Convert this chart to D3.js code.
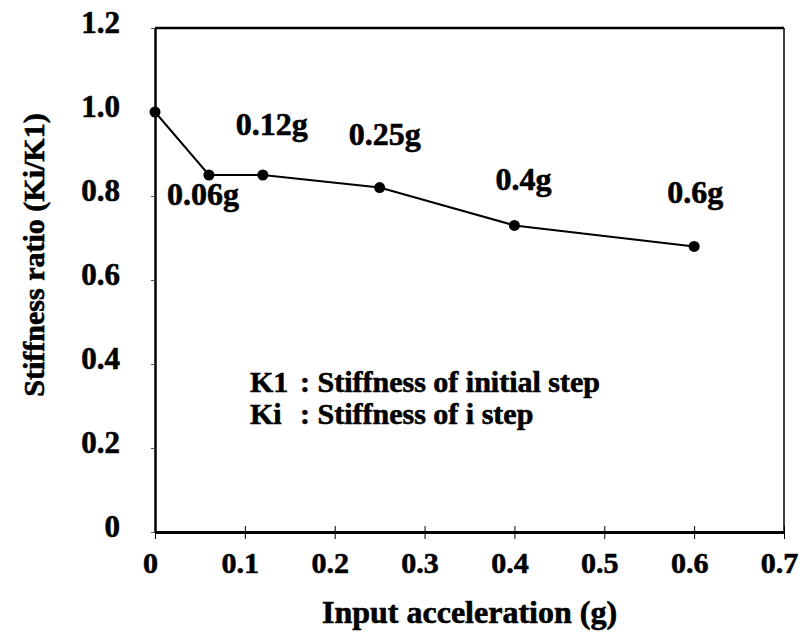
<!DOCTYPE html>
<html>
<head>
<meta charset="utf-8">
<script src="https://cdn.jsdelivr.net/npm/d3@7/dist/d3.min.js"></script>
<style>
  html, body { margin: 0; padding: 0; background: #fff; }
  svg { display: block; }
  text { font-family: "Liberation Serif", "Times New Roman", serif; font-weight: bold; fill: #000; stroke: #000; stroke-width: 0.6px; }
</style>
</head>
<body>
<svg id="chart" width="799" height="632"></svg>
<script>
// ---- data ----
const accel = [0, 0.06, 0.12, 0.25, 0.4, 0.6];
const ratio = [1.0, 0.85, 0.85, 0.82, 0.73, 0.68];
const pointLabels = ["", "0.06g", "0.12g", "0.25g", "0.4g", "0.6g"];
const xTicks = [0, 0.1, 0.2, 0.3, 0.4, 0.5, 0.6, 0.7];
const xTickLabels = ["0", "0.1", "0.2", "0.3", "0.4", "0.5", "0.6", "0.7"];
const yTicks = [0, 0.2, 0.4, 0.6, 0.8, 1.0, 1.2];
const yTickLabels = ["0", "0.2", "0.4", "0.6", "0.8", "1.0", "1.2"];
const xTitle = "Input acceleration (g)";
const yTitle = "Stiffness ratio (Ki/K1)";
const legendKeys = ["K1", "Ki"];
const legendTexts = [": Stiffness of initial step", ": Stiffness of i step"];

// ---- layout ----
const L = 155, R = 784, T = 28, B = 532;
const svg = d3.select("#chart");
const x = d3.scaleLinear().domain([0, 0.7]).range([L, R]);
const y = d3.scaleLinear().domain([0, 1.2]).range([B, T]);
const FONT = "'Liberation Serif', 'Times New Roman', serif";

// label offsets (px) relative to each point
const labelOffsets = [[0, 0], [-6, 30], [9, -40], [5, -43], [9, -35], [1, -43]];

// frame: top and right
svg.append("line").attr("x1", L).attr("x2", R).attr("y1", T).attr("y2", T)
  .attr("stroke", "#000").attr("stroke-width", 2.5);
svg.append("line").attr("x1", R).attr("x2", R).attr("y1", T).attr("y2", B)
  .attr("stroke", "#000").attr("stroke-width", 1.5);

// x axis
const xAxis = d3.axisBottom(x).tickValues(xTicks)
  .tickFormat((d, i) => xTickLabels[i]).tickSizeInner(6).tickSizeOuter(0).tickPadding(0);
const gx = svg.append("g").attr("transform", `translate(0,${B})`).call(xAxis);
gx.select(".domain").attr("stroke", "#000").attr("stroke-width", 3);
gx.selectAll(".tick line").attr("y1", -6).attr("y2", 7).attr("stroke", "#000").attr("stroke-width", 1);
gx.selectAll(".tick text").attr("y", 41).attr("dy", 0).attr("dx", -5)
  .style("font-size", "30px").style("font-family", FONT)
  .style("font-weight", "bold").attr("fill", "#000");

// y axis
const yAxis = d3.axisLeft(y).tickValues(yTicks)
  .tickFormat((d, i) => yTickLabels[i]).tickSizeInner(4).tickSizeOuter(0).tickPadding(0);
const gy = svg.append("g").attr("transform", `translate(${L},0)`).call(yAxis);
gy.select(".domain").attr("stroke", "#000").attr("stroke-width", 2.5);
gy.selectAll(".tick line").attr("stroke", "#555").attr("stroke-width", 1);
gy.selectAll(".tick text").attr("x", -35).attr("dy", 4)
  .style("font-size", "31px").style("font-family", FONT)
  .style("font-weight", "bold").attr("fill", "#000");

// data line
const pts = accel.map((a, i) => [a, ratio[i]]);
svg.append("path").datum(pts)
  .attr("d", d3.line().x(d => x(d[0])).y(d => y(d[1])))
  .attr("fill", "none").attr("stroke", "#000").attr("stroke-width", 2);
svg.selectAll("circle.pt").data(pts).enter().append("circle")
  .attr("class", "pt").attr("cx", d => x(d[0])).attr("cy", d => y(d[1])).attr("r", 5.5)
  .attr("fill", "#000");

// point labels
svg.selectAll("text.plabel").data(pointLabels).enter().append("text")
  .attr("class", "plabel")
  .attr("x", (d, i) => x(accel[i]) + labelOffsets[i][0])
  .attr("y", (d, i) => y(ratio[i]) + labelOffsets[i][1])
  .attr("text-anchor", "middle").style("font-size", "32px")
  .text(d => d);

// legend text
legendKeys.forEach((k, i) => {
  const by = 392 + i * 32;
  svg.append("text").attr("x", 250).attr("y", by).style("font-size", "30px").text(k);
  svg.append("text").attr("x", 300).attr("y", by).style("font-size", "30px").text(legendTexts[i]);
});

// axis titles
svg.append("text").attr("x", (L + R) / 2).attr("y", 623).attr("text-anchor", "middle")
  .style("font-size", "32px").text(xTitle);
svg.append("text").attr("transform", `translate(44,255) rotate(-90)`).attr("text-anchor", "middle")
  .style("font-size", "30px").text(yTitle);
</script>
</body>
</html>
